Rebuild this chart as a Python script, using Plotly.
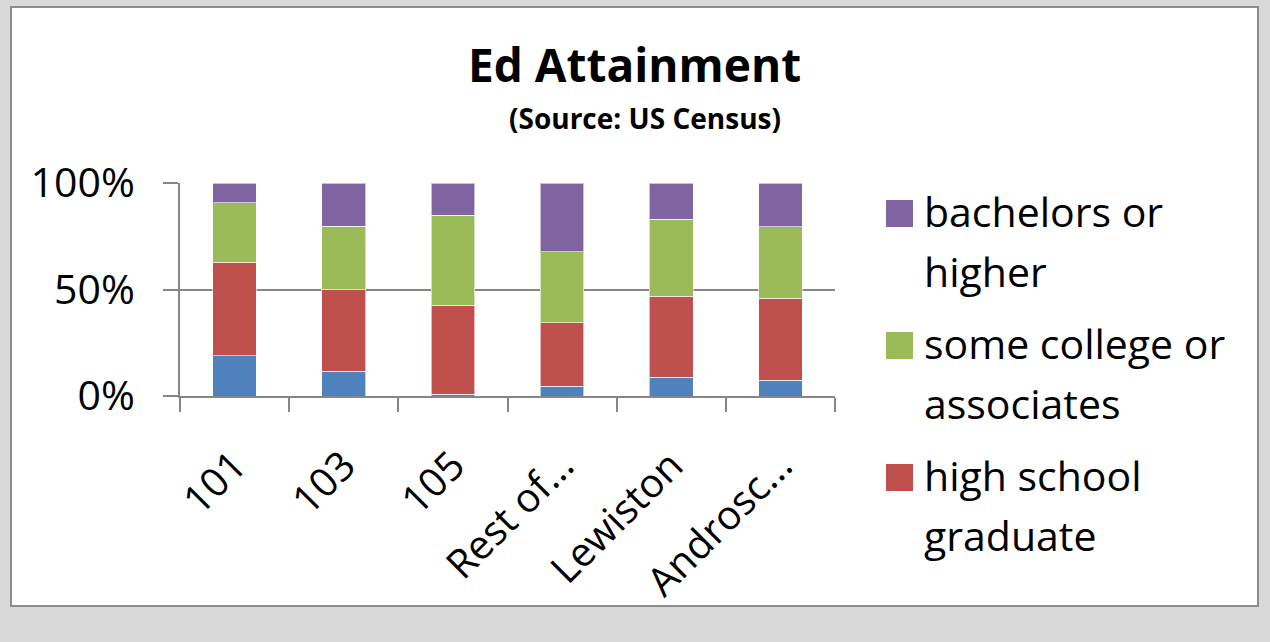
import plotly.graph_objects as go

# categories (truncated as shown on the chart)
areas = ["101", "103", "105", "Rest of...", "Lewiston", "Androsc..."]

# shares in percent
less_than_hs = [18.8, 11.6, 0.9, 4.6, 8.8, 7.4]
high_school = [44.0, 38.4, 41.6, 29.8, 38.0, 38.4]
some_college = [28.0, 29.6, 42.3, 33.4, 36.1, 33.7]
bachelors = [9.2, 20.4, 15.2, 32.2, 17.1, 20.5]

series = [
    ("less than high school", less_than_hs, "#4f81bd"),
    ("high school graduate", high_school, "#c0504d"),
    ("some college or associates", some_college, "#9bbb59"),
    ("bachelors or higher", bachelors, "#8064a2"),
]

# legend as drawn in the original (blue entry is cut off there)
legend_items = [
    (["bachelors or", "higher"], "#8064a2"),
    (["some college or", "associates"], "#9bbb59"),
    (["high school", "graduate"], "#c0504d"),
]

font = "'Open Sans', sans-serif"

fig = go.Figure()
for name, vals, col in series:
    fig.add_bar(x=areas, y=vals, name=name, marker_color=col,
                marker_line=dict(color="rgba(255,255,255,0.6)", width=1),
                width=0.40)

# px -> paper coords
L, R, T, B = 180, 835, 183, 396
W, H = R - L, B - T
def px(x):
    return (x - L) / W
def py(y):
    return (B - y) / H

# white chart panel
fig.add_shape(type="rect", xref="paper", yref="paper",
              x0=px(11), x1=px(1258), y0=py(7), y1=py(606),
              fillcolor="white", line=dict(color="#8c8c8c", width=2), layer="below")

fig.add_annotation(text="<b>Ed Attainment</b>", xref="paper", yref="paper",
                   x=px(634), y=py(64), xanchor="center", yanchor="middle",
                   showarrow=False, font=dict(family=font, size=46, color="black"))
fig.add_annotation(text="<b>(Source: US Census)</b>", xref="paper", yref="paper",
                   x=px(645), y=py(118), xanchor="center", yanchor="middle",
                   showarrow=False, font=dict(family=font, size=28, color="black"))

# manual legend with big swatches
for i, (lines, col) in enumerate(legend_items):
    cy = 213.5 + i * 132
    fig.add_shape(type="rect", xref="paper", yref="paper",
                  x0=px(886), x1=px(913), y0=py(cy - 13.5), y1=py(cy + 13.5),
                  fillcolor=col, line=dict(width=0))
    for j, t in enumerate(lines):
        fig.add_annotation(text=t, xref="paper", yref="paper",
                           x=px(922), y=py(cy - 3 + j * 60), xanchor="left",
                           yanchor="middle", showarrow=False,
                           font=dict(family=font, size=41, color="black"))

fig.update_layout(
    barmode="stack",
    width=1270, height=642,
    margin=dict(l=L, r=1270 - R, t=T, b=642 - B, autoexpand=False),
    paper_bgcolor="#d9d9d9",
    plot_bgcolor="white",
    font=dict(family=font, color="black"),
    showlegend=False,
)

fig.update_yaxes(range=[0, 100], tickvals=[0, 50, 100],
                 ticktext=["0%", "50%", "100%"],
                 tickfont=dict(size=41), showgrid=True, gridcolor="#868686",
                 gridwidth=2, showline=True, linecolor="#868686", linewidth=2,
                 ticks="outside", ticklen=15, tickcolor="#868686", tickwidth=2,
                 ticklabelstandoff=20, zeroline=False, automargin=False)
fig.update_xaxes(tickangle=-45, tickfont=dict(size=40), showline=True,
                 linecolor="#868686", linewidth=2, ticks="outside",
                 tickson="boundaries", ticklen=14, tickcolor="#868686",
                 tickwidth=2, ticklabelstandoff=28, showgrid=False,
                 automargin=False)

fig.write_html("out.html", config={"displayModeBar": False},
               post_script="document.body.style.margin='0';")
